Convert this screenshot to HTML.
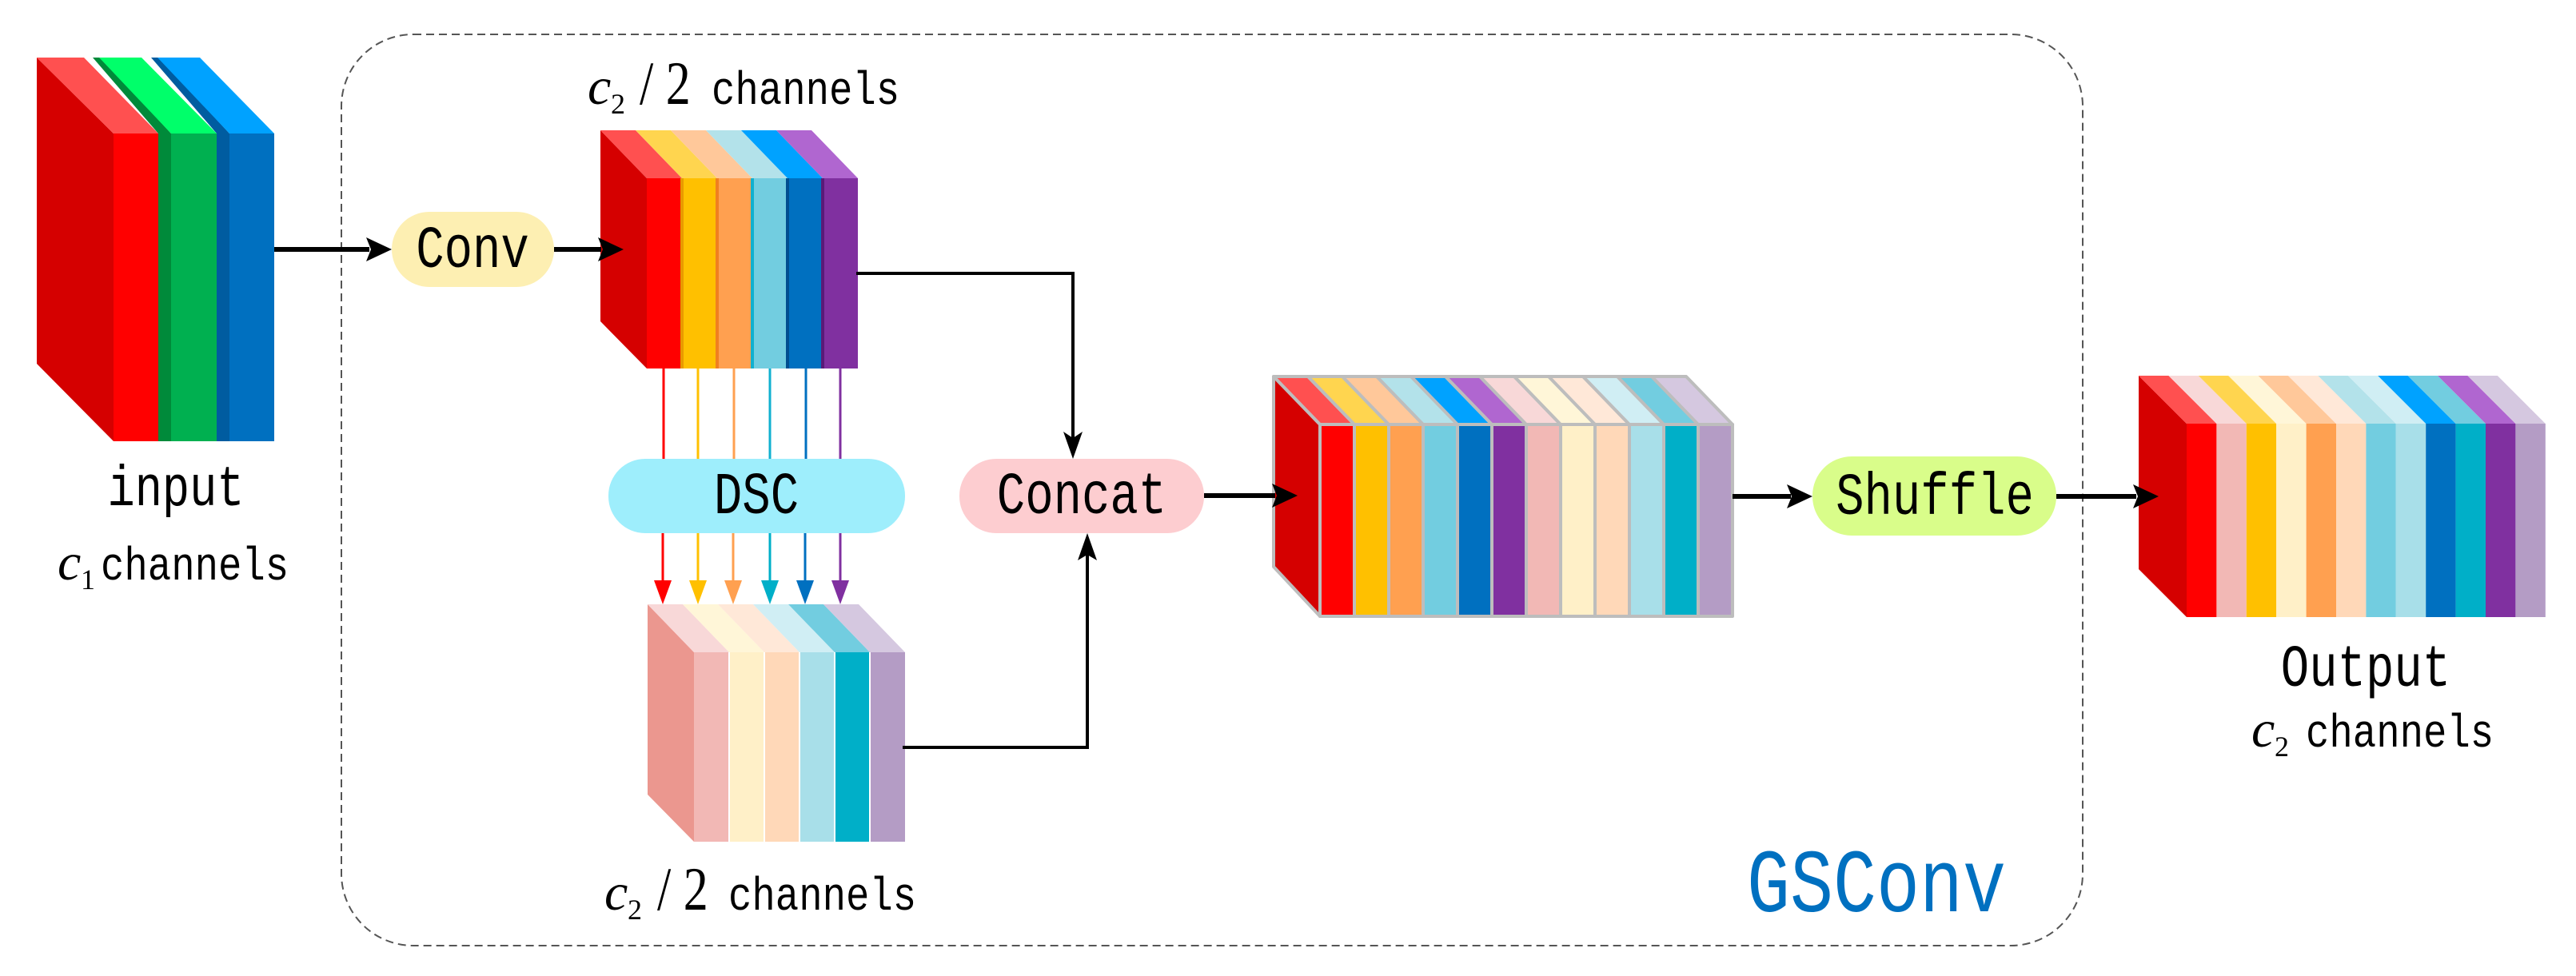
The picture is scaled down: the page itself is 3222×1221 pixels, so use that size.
<!DOCTYPE html>
<html><head><meta charset="utf-8"><style>
html,body{margin:0;padding:0;background:#fff;}
svg{display:block;}
.m{font-family:"Liberation Mono",monospace;fill:#000;}
.s{font-family:"Liberation Serif",serif;fill:#000;}
</style></head><body>
<svg width="3222" height="1221" viewBox="0 0 3222 1221" xmlns="http://www.w3.org/2000/svg">
<defs>
<path id="t2" d="M0,0 h44 l58,60 h-44 z"/>
<rect id="f2" width="44" height="238"/>
<rect id="s2" width="4" height="238"/>
<path id="t3" d="M0,0 h44 l58,60 h-44 z"/>
<rect id="f3" width="44" height="237"/>
<path id="t4" d="M0,0 h43 l58,60 h-43 z"/>
<rect id="f4" width="43" height="240"/>
<path id="t5" d="M0,0 h37.4 l60,60 h-37.4 z"/>
<rect id="f5" width="37.4" height="242"/>
</defs>

<!-- dashed GSConv box -->
<rect x="427" y="43" width="2178" height="1140" rx="90" ry="90" fill="none" stroke="#555" stroke-width="2" stroke-dasharray="10 6"/>

<!-- input block -->
<polygon points="46,72 142,167 142,552 46,455" fill="#d50000"/>
<polygon points="46,72 105,72 198,167 142,167" fill="#ff5050"/>
<rect x="142" y="167" width="56" height="385" fill="#ff0000"/>
<polygon points="116,72 126,72 214,167 198,167" fill="#008a3a"/>
<rect x="198" y="167" width="16" height="385" fill="#008a3a"/>
<polygon points="124,72 177,72 271,167 214,167" fill="#00ff6a"/>
<rect x="214" y="167" width="57" height="385" fill="#00b050"/>
<polygon points="189,72 199,72 287,167 271,167" fill="#005ca0"/>
<rect x="271" y="167" width="16" height="385" fill="#005ca0"/>
<polygon points="197,72 250,72 343,167 287,167" fill="#00a2ff"/>
<rect x="287" y="167" width="56" height="385" fill="#0070c0"/>

<!-- top c2/2 block -->
<polygon points="751,163 809,223 809,461 751,402" fill="#d50000"/>
<use href="#t2" x="751" y="163" fill="#ff5050"/><use href="#f2" x="809" y="223" fill="#ff0000"/>
<use href="#t2" x="795" y="163" fill="#ffd54f"/><use href="#f2" x="853" y="223" fill="#ffc000"/><use href="#s2" x="851" y="223" fill="#e89a00"/>
<use href="#t2" x="839" y="163" fill="#ffc89a"/><use href="#f2" x="897" y="223" fill="#ffa050"/><use href="#s2" x="895" y="223" fill="#f08020"/>
<use href="#t2" x="883" y="163" fill="#b3e2ea"/><use href="#f2" x="941" y="223" fill="#72cde0"/><use href="#s2" x="939" y="223" fill="#10b0d0"/>
<use href="#t2" x="927" y="163" fill="#00a2ff"/><use href="#f2" x="985" y="223" fill="#0070c0"/><use href="#s2" x="983" y="223" fill="#004f90"/>
<use href="#t2" x="971" y="163" fill="#b066d0"/><use href="#f2" x="1029" y="223" fill="#8030a0"/><use href="#s2" x="1027" y="223" fill="#5a1a78"/>

<!-- colored lines -->
<g stroke-width="3">
<line x1="830" y1="461" x2="830" y2="574" stroke="#ff0000"/>
<line x1="873" y1="461" x2="873" y2="574" stroke="#ffc000"/>
<line x1="918" y1="461" x2="918" y2="574" stroke="#ffa050"/>
<line x1="963" y1="461" x2="963" y2="574" stroke="#10b0d0"/>
<line x1="1008" y1="461" x2="1008" y2="574" stroke="#0070c0"/>
<line x1="1051" y1="461" x2="1051" y2="574" stroke="#8030a0"/>
<line x1="829" y1="667" x2="829" y2="735" stroke="#ff0000"/>
<line x1="873" y1="667" x2="873" y2="735" stroke="#ffc000"/>
<line x1="917" y1="667" x2="917" y2="735" stroke="#ffa050"/>
<line x1="963" y1="667" x2="963" y2="735" stroke="#00afc8"/>
<line x1="1007" y1="667" x2="1007" y2="735" stroke="#0070c0"/>
<line x1="1051" y1="667" x2="1051" y2="735" stroke="#8030a0"/>
</g>
<polygon points="818,726 840,726 829,756" fill="#ff0000"/>
<polygon points="862,726 884,726 873,756" fill="#ffc000"/>
<polygon points="906,726 928,726 917,756" fill="#ffa050"/>
<polygon points="952,726 974,726 963,756" fill="#00afc8"/>
<polygon points="996,726 1018,726 1007,756" fill="#0070c0"/>
<polygon points="1040,726 1062,726 1051,756" fill="#8030a0"/>

<!-- lower block -->
<polygon points="810,756 868,816 868,1053 810,994" fill="#eb978f"/>
<use href="#t3" x="810" y="756" fill="#f8d8d8"/><use href="#f3" x="868" y="816" fill="#f2b8b5"/>
<use href="#t3" x="854" y="756" fill="#fff6d8"/><use href="#f3" x="912" y="816" fill="#fff0c8"/>
<use href="#t3" x="898" y="756" fill="#ffe8d8"/><use href="#f3" x="956" y="816" fill="#ffd8b8"/>
<use href="#t3" x="942" y="756" fill="#d0eef4"/><use href="#f3" x="1000" y="816" fill="#a8dfe9"/>
<use href="#t3" x="986" y="756" fill="#72cde0"/><use href="#f3" x="1044" y="816" fill="#00afc8"/>
<use href="#t3" x="1030" y="756" fill="#d5c8e0"/><use href="#f3" x="1088" y="816" fill="#b49cc5"/>
<g stroke="#fff" stroke-width="2">
<line x1="912" y1="816" x2="912" y2="1053"/><line x1="956" y1="816" x2="956" y2="1053"/><line x1="1000" y1="816" x2="1000" y2="1053"/><line x1="1044" y1="816" x2="1044" y2="1053"/><line x1="1088" y1="816" x2="1088" y2="1053"/>
</g>

<!-- concat block -->
<g stroke="#bdbdbd" stroke-width="4" stroke-linejoin="round">
<polygon points="1593,471 1651,531 1651,771 1593,709" fill="#d50000"/>
<use href="#t4" x="1593" y="471" fill="#ff5050"/><use href="#f4" x="1651" y="531" fill="#ff0000"/>
<use href="#t4" x="1636" y="471" fill="#ffd54f"/><use href="#f4" x="1694" y="531" fill="#ffc000"/>
<use href="#t4" x="1679" y="471" fill="#ffc89a"/><use href="#f4" x="1737" y="531" fill="#ffa050"/>
<use href="#t4" x="1722" y="471" fill="#b3e2ea"/><use href="#f4" x="1780" y="531" fill="#72cde0"/>
<use href="#t4" x="1765" y="471" fill="#00a2ff"/><use href="#f4" x="1823" y="531" fill="#0070c0"/>
<use href="#t4" x="1808" y="471" fill="#b066d0"/><use href="#f4" x="1866" y="531" fill="#8030a0"/>
<use href="#t4" x="1851" y="471" fill="#f8d8d8"/><use href="#f4" x="1909" y="531" fill="#f2b8b5"/>
<use href="#t4" x="1894" y="471" fill="#fff6d8"/><use href="#f4" x="1952" y="531" fill="#fff0c8"/>
<use href="#t4" x="1937" y="471" fill="#ffe8d8"/><use href="#f4" x="1995" y="531" fill="#ffd8b8"/>
<use href="#t4" x="1980" y="471" fill="#d0eef4"/><use href="#f4" x="2038" y="531" fill="#a8dfe9"/>
<use href="#t4" x="2023" y="471" fill="#72cde0"/><use href="#f4" x="2081" y="531" fill="#00afc8"/>
<use href="#t4" x="2066" y="471" fill="#d5c8e0"/><use href="#f4" x="2124" y="531" fill="#b49cc5"/>
</g>

<!-- output block -->
<polygon points="2675,470 2735,530 2735,772 2675,712" fill="#d50000"/>
<use href="#t5" x="2675" y="470" fill="#ff5050"/><use href="#f5" x="2735" y="530" fill="#ff0000"/>
<use href="#t5" x="2712.4" y="470" fill="#f8d8d8"/><use href="#f5" x="2772.4" y="530" fill="#f2b8b5"/>
<use href="#t5" x="2749.8" y="470" fill="#ffd54f"/><use href="#f5" x="2809.8" y="530" fill="#ffc000"/>
<use href="#t5" x="2787.2" y="470" fill="#fff6d8"/><use href="#f5" x="2847.2" y="530" fill="#fff0c8"/>
<use href="#t5" x="2824.6" y="470" fill="#ffc89a"/><use href="#f5" x="2884.6" y="530" fill="#ffa050"/>
<use href="#t5" x="2862" y="470" fill="#ffe8d8"/><use href="#f5" x="2922" y="530" fill="#ffd8b8"/>
<use href="#t5" x="2899.4" y="470" fill="#b3e2ea"/><use href="#f5" x="2959.4" y="530" fill="#72cde0"/>
<use href="#t5" x="2936.8" y="470" fill="#d0eef4"/><use href="#f5" x="2996.8" y="530" fill="#a8dfe9"/>
<use href="#t5" x="2974.2" y="470" fill="#00a2ff"/><use href="#f5" x="3034.2" y="530" fill="#0070c0"/>
<use href="#t5" x="3011.6" y="470" fill="#72cde0"/><use href="#f5" x="3071.6" y="530" fill="#00afc8"/>
<use href="#t5" x="3049" y="470" fill="#b066d0"/><use href="#f5" x="3109" y="530" fill="#8030a0"/>
<use href="#t5" x="3086.4" y="470" fill="#d5c8e0"/><use href="#f5" x="3146.4" y="530" fill="#b49cc5"/>

<!-- pills -->
<rect x="490" y="265" width="203" height="94" rx="47" fill="#fdefb2"/>
<rect x="761" y="574" width="371" height="93" rx="46" fill="#9eeefc"/>
<rect x="1200" y="574" width="306" height="93" rx="46" fill="#fdcdd0"/>
<rect x="2267" y="571" width="305" height="99" rx="49" fill="#d9fd8a"/>

<!-- arrows -->
<g stroke="#000" stroke-width="6" fill="none">
<line x1="343" y1="312" x2="462" y2="312"/>
<line x1="693" y1="312" x2="752" y2="312"/>
<polyline stroke-width="4" points="1071,342 1342,342 1342,548"/>
<polyline stroke-width="4" points="1129,935 1360,935 1360,694"/>
<line x1="1506" y1="620" x2="1595" y2="620"/>
<line x1="2167" y1="621" x2="2240" y2="621"/>
<line x1="2572" y1="621" x2="2672" y2="621"/>
</g>
<g fill="#000">
<polygon points="458,297 490,312 458,327 464,312"/>
<polygon points="748,297 780,312 748,327 754,312"/>
<polygon points="1330,540 1342,574 1354,540 1342,548"/>
<polygon points="1348,701 1360,667 1372,701 1360,694"/>
<polygon points="1591,605 1623,620 1591,635 1597,620"/>
<polygon points="2235,606 2267,621 2235,636 2241,621"/>
<polygon points="2668,606 2700,621 2668,636 2674,621"/>
</g>

<!-- pill texts -->
<g transform="translate(591,334) scale(1,1.25)"><text class="m" x="0" y="0" font-size="59" text-anchor="middle">Conv</text></g>
<g transform="translate(946,642) scale(1,1.25)"><text class="m" x="0" y="0" font-size="59" text-anchor="middle">DSC</text></g>
<g transform="translate(1353,642) scale(1,1.25)"><text class="m" x="0" y="0" font-size="59" text-anchor="middle">Concat</text></g>
<g transform="translate(2420,643) scale(1,1.25)"><text class="m" x="0" y="0" font-size="59" text-anchor="middle">Shuffle</text></g>
<g transform="translate(2347,1140) scale(1,1.25)"><text class="m" x="0" y="0" font-size="90" text-anchor="middle" style="fill:#0070c0">GSConv</text></g>

<!-- labels -->
<g transform="translate(220,632) scale(1,1.25)"><text class="m" x="0" y="0" font-size="57" text-anchor="middle">input</text></g>
<g transform="translate(2959,858) scale(1,1.25)"><text class="m" x="0" y="0" font-size="59" text-anchor="middle">Output</text></g>

<!-- c1 channels -->
<text class="s" x="72" y="725" font-size="66" font-style="italic">c</text>
<text class="s" x="101" y="737" font-size="36">1</text>
<g transform="translate(126,725) scale(1,1.2)"><text class="m" x="0" y="0" font-size="49">channels</text></g>

<!-- top c2/2 channels -->
<text class="s" x="735" y="130" font-size="66" font-style="italic">c</text>
<text class="s" x="764" y="142" font-size="36">2</text>
<g transform="translate(800,130) scale(1,1.25)"><text class="s" x="0" y="0" font-size="62">/ 2</text></g>
<g transform="translate(890,130) scale(1,1.2)"><text class="m" x="0" y="0" font-size="49">channels</text></g>

<!-- bottom c2/2 channels -->
<text class="s" x="756" y="1138" font-size="66" font-style="italic">c</text>
<text class="s" x="785" y="1150" font-size="36">2</text>
<g transform="translate(822,1138) scale(1,1.25)"><text class="s" x="0" y="0" font-size="62">/ 2</text></g>
<g transform="translate(911,1138) scale(1,1.2)"><text class="m" x="0" y="0" font-size="49">channels</text></g>

<!-- output c2 channels -->
<text class="s" x="2816" y="934" font-size="66" font-style="italic">c</text>
<text class="s" x="2845" y="946" font-size="36">2</text>
<g transform="translate(2884,934) scale(1,1.2)"><text class="m" x="0" y="0" font-size="49">channels</text></g>
</svg>
</body></html>
